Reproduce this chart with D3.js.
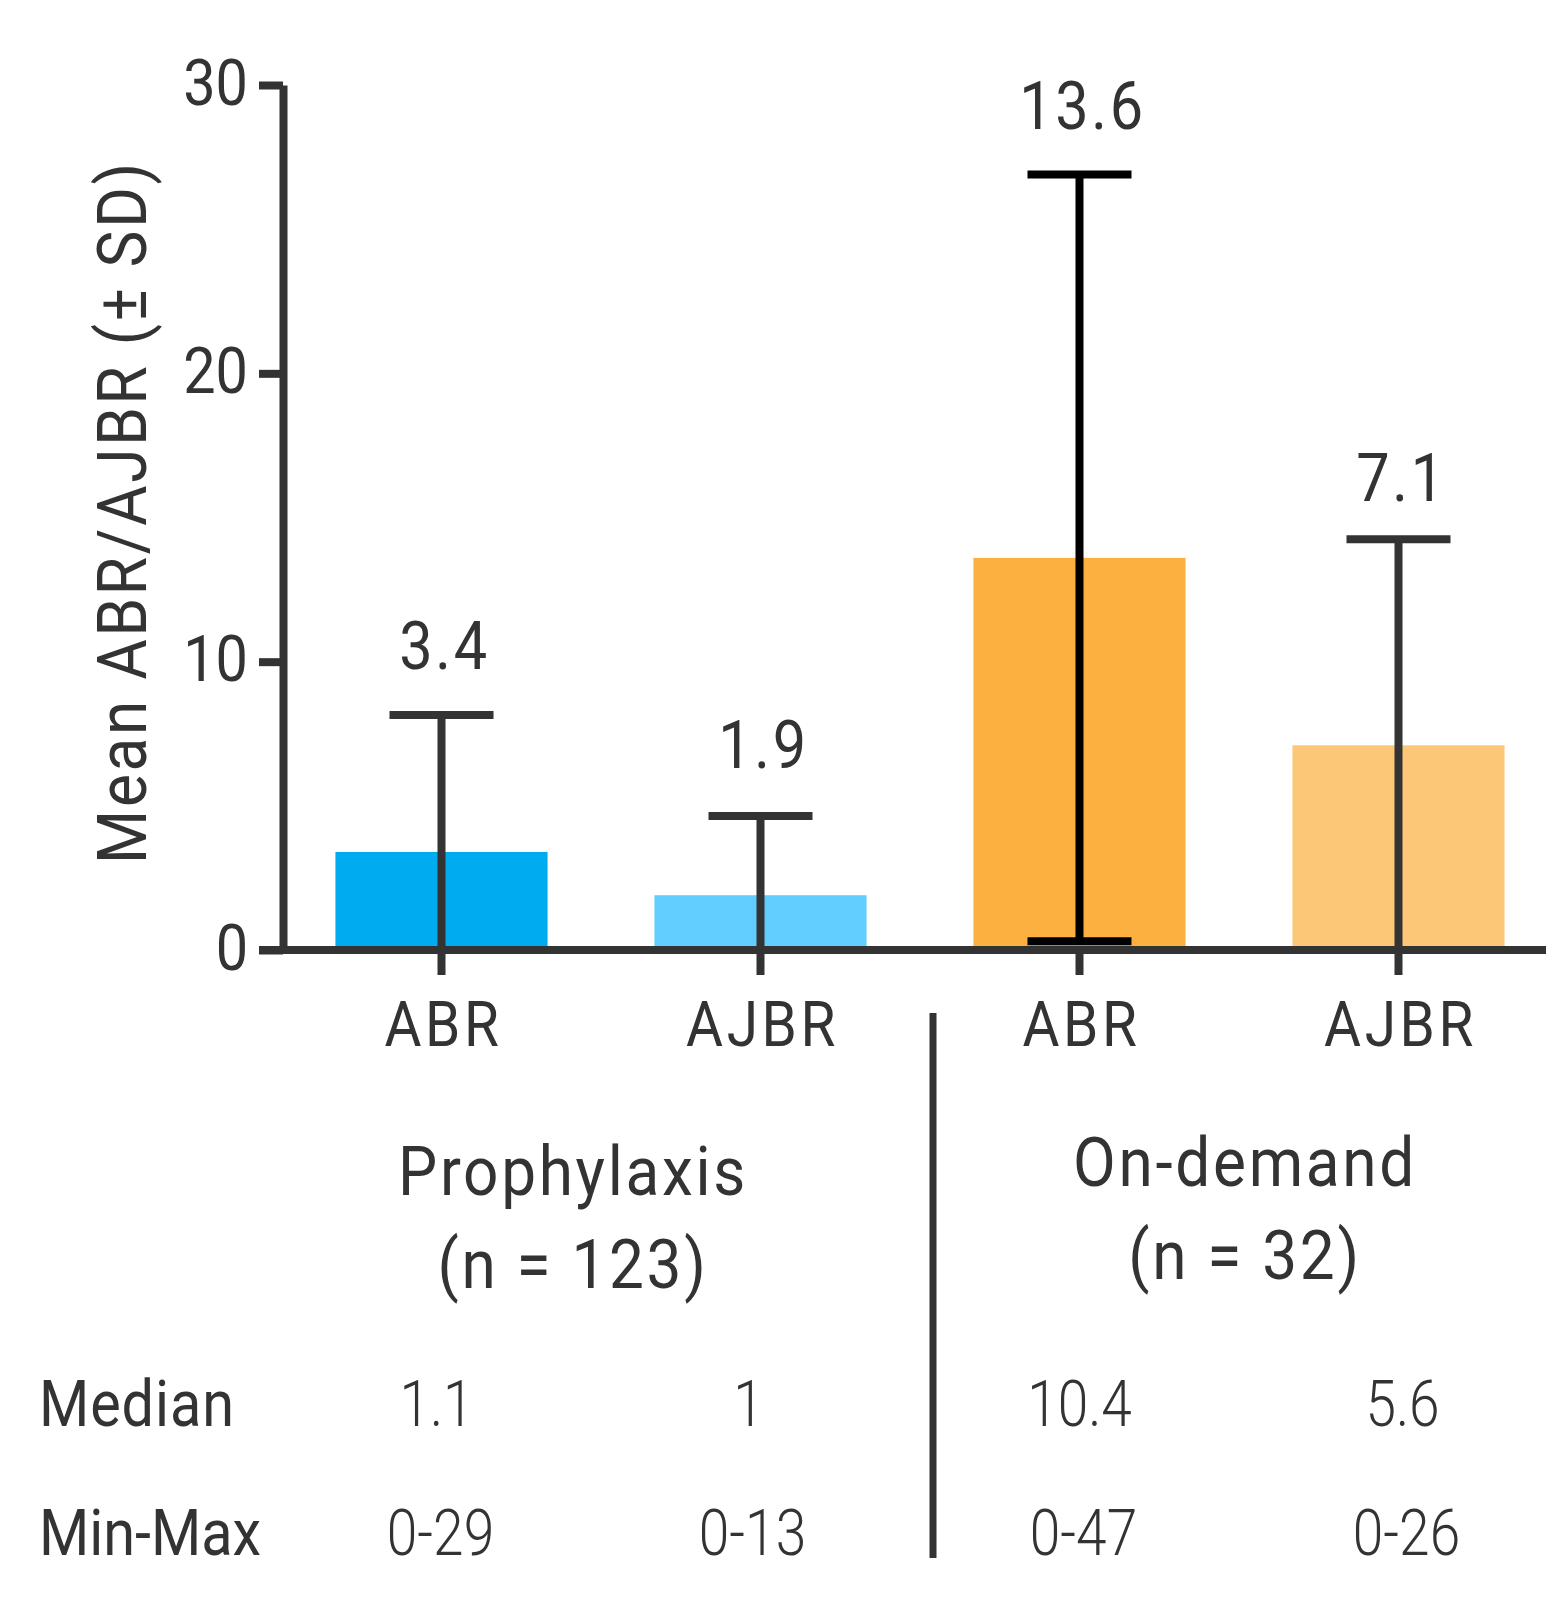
<!DOCTYPE html>
<html>
<head>
<meta charset="utf-8">
<script src="https://cdn.jsdelivr.net/npm/d3@7"></script>
<style>
  html, body { margin: 0; padding: 0; background: #fff; }
  svg { display: block; }
  text { font-family: Roboto, "Noto Sans", sans-serif; fill: #333; }
</style>
</head>
<body>
<div id="chart"></div>
<script>
// ---- data ----
const categories = ["ABR", "AJBR", "ABR", "AJBR"];
const groups = ["Prophylaxis", "Prophylaxis", "On-demand", "On-demand"];
const means = [3.4, 1.9, 13.6, 7.1];
const sds = [4.75, 2.75, 13.3, 7.15];
const medians = ["1.1", "1", "10.4", "5.6"];
const minMax = ["0-29", "0-13", "0-47", "0-26"];
const yTicks = [0, 10, 20, 30];
const groupNames = ["Prophylaxis", "On-demand"];
const groupNs = ["(n = 123)", "(n = 32)"];
const barColors = ["#00ACEF", "#62CEFF", "#FBB040", "#FCC878"];
const errColors = ["#333333", "#333333", "#000000", "#333333"];
const yTitle = "Mean ABR/AJBR (± SD)";

// ---- layout ----
const W = 1546, H = 1597;
const SX = 0.9; // horizontal condensing for text
const svg = d3.select("#chart").append("svg").attr("width", W).attr("height", H);

const idx = d3.range(categories.length);
const x = d3.scaleBand().domain(idx).range([282, 1558]).paddingInner(0.335).paddingOuter(0.1675);
const y = d3.scaleLinear().domain([0, 30]).range([950, 85]);

function cText(sel, tx, ty, str, size, weight, anchor, rot, ls, sx) {
  return sel.append("text")
    .attr("transform", `translate(${tx},${ty})` + (rot ? ` rotate(${rot})` : "") + ` scale(${sx || SX},1)`)
    .attr("text-anchor", anchor || "middle")
    .style("font-size", size + "px")
    .style("font-weight", weight || 400)
    .style("letter-spacing", (ls == null ? 3 : ls) + "px")
    .text(str);
}

// bars
svg.append("g").selectAll("rect").data(idx).join("rect")
  .attr("x", i => x(i))
  .attr("width", x.bandwidth())
  .attr("y", i => y(means[i]))
  .attr("height", i => y(0) - y(means[i]))
  .attr("fill", i => barColors[i]);

// y axis
const yAxis = svg.append("g").attr("transform", "translate(283,0)")
  .call(d3.axisLeft(y).tickValues(yTicks).tickSize(24).tickSizeOuter(0).tickPadding(9));
yAxis.select(".domain").attr("stroke", "#333").attr("stroke-width", 8);
yAxis.selectAll(".tick line").attr("stroke", "#333").attr("stroke-width", 8);
yAxis.selectAll(".tick text").each(function() {
  const t = d3.select(this);
  const xx = +t.attr("x");
  t.attr("x", 0).attr("dy", null)
    .attr("transform", `translate(${xx - 2},19) scale(${SX},1)`)
    .style("font-size", "64px").style("font-family", "Roboto")
    .style("font-weight", 400).style("letter-spacing", "0px").attr("fill", "#333");
});

// x axis
const xAxis = svg.append("g").attr("transform", `translate(0,${y(0)})`)
  .call(d3.axisBottom(x).tickSize(25).tickSizeOuter(0).tickFormat(() => ""));
xAxis.select(".domain").attr("d", `M259,0H${W}`).attr("stroke", "#333").attr("stroke-width", 8);
xAxis.selectAll(".tick line").attr("stroke", "#333").attr("stroke-width", 8);
idx.forEach(i => cText(svg, x(i) + x.bandwidth() / 2 + 2, 1046, categories[i], 63, 400, "middle", 0, 4));

// error bars
const capW = 104;
const labelGap = [46, 48, 45, 38];
const eb = svg.append("g");
idx.forEach(i => {
  const cx = x(i) + x.bandwidth() / 2;
  const up = means[i] + sds[i];
  const lo = Math.max(0, means[i] - sds[i]);
  const c = errColors[i];
  eb.append("line").attr("x1", cx).attr("x2", cx).attr("y1", y(up)).attr("y2", y(lo))
    .attr("stroke", c).attr("stroke-width", 8);
  eb.append("line").attr("x1", cx - capW / 2).attr("x2", cx + capW / 2).attr("y1", y(up)).attr("y2", y(up))
    .attr("stroke", c).attr("stroke-width", 8);
  eb.append("line").attr("x1", cx - capW / 2).attr("x2", cx + capW / 2).attr("y1", y(lo)).attr("y2", y(lo))
    .attr("stroke", c).attr("stroke-width", 8);
  cText(svg, cx + 3, y(up) - labelGap[i], means[i].toFixed(1), 66, 400, "middle", 0, 3);
});

// y title
cText(svg, 146, 512, yTitle, 69, 400, "middle", -90, 3);

// separator
svg.append("line").attr("x1", 933).attr("x2", 933).attr("y1", 1013).attr("y2", 1558)
  .attr("stroke", "#333").attr("stroke-width", 7);

// group labels
const gCenters = [573, 1245];
const gBase = [1195, 1186];
groupNames.forEach((g, k) => {
  cText(svg, gCenters[k], gBase[k], g, 69, 400, "middle", 0, 3);
  cText(svg, gCenters[k], gBase[k] + 93, groupNs[k], 69, 400, "middle", 0, 3);
});

// stats table
cText(svg, 39, 1426, "Median", 64, 400, "start", 0, 1);
cText(svg, 39, 1555, "Min-Max", 64, 400, "start", 0, 0);
const statOffsets = [-5, -12, 0, 4];
idx.forEach(i => {
  const cx = x(i) + x.bandwidth() / 2 + statOffsets[i];
  cText(svg, cx, 1426, medians[i], 64, 300, "middle", 0, 0, 0.86);
  cText(svg, cx + 4, 1555, minMax[i], 64, 300, "middle", 0, 0, 0.86);
});
</script>
</body>
</html>
